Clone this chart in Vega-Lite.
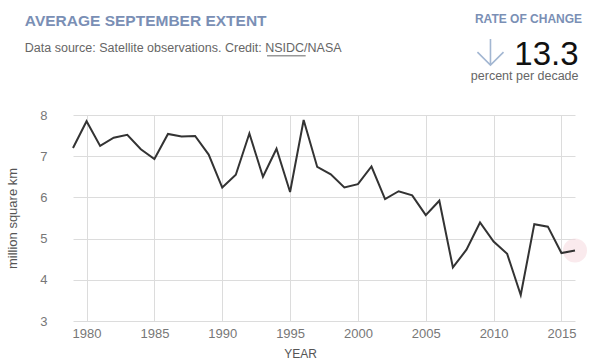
{
  "$schema": "https://vega.github.io/schema/vega-lite/v6.json",
  "width": 502,
  "height": 206,
  "autosize": {"type": "none"},
  "padding": {"left": 73, "top": 115, "right": 33, "bottom": 39},
  "background": "white",
  "config": {"view": {"stroke": null}, "font": "Liberation Sans"},
  "data": {
    "values": [
      {"year": 1979, "extent": 7.20}, {"year": 1980, "extent": 7.85}, {"year": 1981, "extent": 7.25},
      {"year": 1982, "extent": 7.45}, {"year": 1983, "extent": 7.52}, {"year": 1984, "extent": 7.17},
      {"year": 1985, "extent": 6.93}, {"year": 1986, "extent": 7.54}, {"year": 1987, "extent": 7.48},
      {"year": 1988, "extent": 7.49}, {"year": 1989, "extent": 7.04}, {"year": 1990, "extent": 6.24},
      {"year": 1991, "extent": 6.55}, {"year": 1992, "extent": 7.55}, {"year": 1993, "extent": 6.50},
      {"year": 1994, "extent": 7.18}, {"year": 1995, "extent": 6.13}, {"year": 1996, "extent": 7.88},
      {"year": 1997, "extent": 6.74}, {"year": 1998, "extent": 6.56}, {"year": 1999, "extent": 6.24},
      {"year": 2000, "extent": 6.32}, {"year": 2001, "extent": 6.75}, {"year": 2002, "extent": 5.96},
      {"year": 2003, "extent": 6.15}, {"year": 2004, "extent": 6.05}, {"year": 2005, "extent": 5.57},
      {"year": 2006, "extent": 5.92}, {"year": 2007, "extent": 4.30}, {"year": 2008, "extent": 4.73},
      {"year": 2009, "extent": 5.39}, {"year": 2010, "extent": 4.93}, {"year": 2011, "extent": 4.63},
      {"year": 2012, "extent": 3.63}, {"year": 2013, "extent": 5.35}, {"year": 2014, "extent": 5.29},
      {"year": 2015, "extent": 4.65}, {"year": 2016, "extent": 4.71}
    ]
  },
  "layer": [
    {
      "transform": [{"filter": "datum.year == 2016"}],
      "mark": {"type": "point", "filled": true, "size": 580, "color": "#f6d9de", "opacity": 0.55},
      "encoding": {
        "x": {"field": "year", "type": "quantitative", "scale": {"domain": [1979, 2016], "nice": false, "zero": false}},
        "y": {"field": "extent", "type": "quantitative", "scale": {"domain": [3, 8], "nice": false, "zero": false}}
      }
    },
    {
      "mark": {"type": "line", "color": "#333333", "strokeWidth": 2},
      "encoding": {
        "x": {
          "field": "year", "type": "quantitative",
          "scale": {"domain": [1979, 2016], "nice": false, "zero": false},
          "axis": {
            "title": "YEAR", "values": [1980, 1985, 1990, 1995, 2000, 2005, 2010, 2015], "format": "d",
            "grid": true, "gridColor": "#dcdcdc", "domain": false, "ticks": false, "tickSize": 0,
            "labelPadding": 6, "labelFontSize": 13, "labelColor": "#777777", "labelFont": "Liberation Sans",
            "titleFont": "Liberation Sans", "titleFontSize": 12, "titleFontWeight": "normal", "titleColor": "#555555",
            "titlePadding": 8, "titleX": 227
          }
        },
        "y": {
          "field": "extent", "type": "quantitative",
          "scale": {"domain": [3, 8], "nice": false, "zero": false},
          "axis": {
            "title": "million square km", "values": [3, 4, 5, 6, 7, 8],
            "grid": true, "gridColor": "#dcdcdc", "domain": false, "ticks": false, "tickSize": 0,
            "labelPadding": 26, "labelFontSize": 13, "labelColor": "#777777", "labelFont": "Liberation Sans",
            "titleFont": "Liberation Sans", "titleFontSize": 13, "titleFontWeight": "normal", "titleColor": "#555555",
            "titlePadding": 20
          }
        }
      }
    },
    {
      "data": {"values": [{}]},
      "mark": {"type": "text", "text": "AVERAGE SEPTEMBER EXTENT", "font": "Liberation Sans", "fontWeight": "bold", "fontSize": 15.5, "color": "#7a8fb5", "align": "left", "baseline": "alphabetic"},
      "encoding": {"x": {"datum": 1975.45, "type": "quantitative"}, "y": {"datum": 10.158, "type": "quantitative"}}
    },
    {
      "data": {"values": [{}]},
      "mark": {"type": "text", "text": "Data source: Satellite observations. Credit: NSIDC/NASA", "font": "Liberation Sans", "fontSize": 12.5, "color": "#666666", "align": "left", "baseline": "alphabetic"},
      "encoding": {"x": {"datum": 1975.45, "type": "quantitative"}, "y": {"datum": 9.526, "type": "quantitative"}}
    },
    {
      "data": {"values": [{}]},
      "mark": {"type": "rule", "color": "#666666", "strokeWidth": 1},
      "encoding": {"x": {"datum": 1993.3, "type": "quantitative"}, "x2": {"datum": 1996.15}, "y": {"datum": 9.436, "type": "quantitative"}}
    },
    {
      "data": {"values": [{}]},
      "mark": {"type": "text", "text": "RATE OF CHANGE", "font": "Liberation Sans", "fontWeight": "bold", "fontSize": 12, "color": "#7a8fb5", "align": "right", "baseline": "alphabetic"},
      "encoding": {"x": {"datum": 2016.52, "type": "quantitative"}, "y": {"datum": 10.231, "type": "quantitative"}}
    },
    {
      "data": {"values": [{}]},
      "mark": {"type": "point", "shape": "M0,-1L0,1M-1,0L0,1L1,0", "filled": false, "size": 680, "stroke": "#a3b7d2", "strokeWidth": 1.6, "opacity": 1},
      "encoding": {"x": {"datum": 2009.77, "type": "quantitative"}, "y": {"datum": 9.526, "type": "quantitative"}}
    },
    {
      "data": {"values": [{}]},
      "mark": {"type": "text", "text": "13.3", "font": "Liberation Sans", "fontSize": 33, "color": "#111111", "align": "right", "baseline": "alphabetic"},
      "encoding": {"x": {"datum": 2016.26, "type": "quantitative"}, "y": {"datum": 9.22, "type": "quantitative"}}
    },
    {
      "data": {"values": [{}]},
      "mark": {"type": "text", "text": "percent per decade", "font": "Liberation Sans", "fontSize": 12.5, "color": "#666666", "align": "right", "baseline": "alphabetic"},
      "encoding": {"x": {"datum": 2016.26, "type": "quantitative"}, "y": {"datum": 8.84, "type": "quantitative"}}
    }
  ]
}
